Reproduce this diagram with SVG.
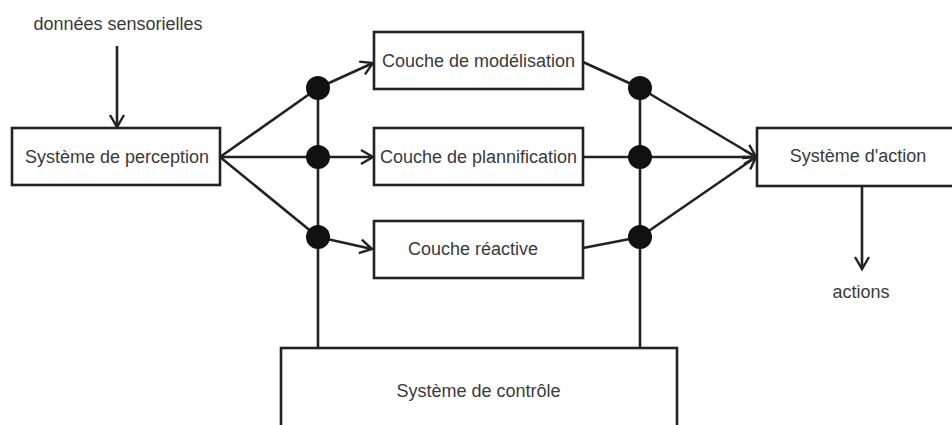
<svg xmlns="http://www.w3.org/2000/svg" width="952" height="425" viewBox="0 0 952 425">
<defs>
<style>
.box{fill:#fff;stroke:#222;stroke-width:2.6}
.ln{fill:none;stroke:#222;stroke-width:2.6}
.dot{fill:#111}
.t{font-family:"Liberation Sans",Arial,sans-serif;font-size:18px;fill:#3a3a3a;text-anchor:middle}
</style>
<marker id="v" markerUnits="userSpaceOnUse" viewBox="-14 -9 16 18" refX="0" refY="0" markerWidth="16" markerHeight="18" orient="auto" overflow="visible">
<path d="M-12,-7 L0,0 L-12,7" fill="none" stroke="#222" stroke-width="2.4"/>
</marker>
</defs>
<rect width="952" height="425" fill="#fff"/>
<g id="connectors">
<line class="ln" x1="117" y1="46" x2="117" y2="127" marker-end="url(#v)"/>
<line class="ln" x1="220" y1="157" x2="318" y2="88"/>
<line class="ln" x1="220" y1="157" x2="318" y2="157"/>
<line class="ln" x1="220" y1="157" x2="318" y2="237"/>
<line class="ln" x1="318" y1="88" x2="373" y2="63" marker-end="url(#v)"/>
<line class="ln" x1="318" y1="157" x2="373" y2="157" marker-end="url(#v)"/>
<line class="ln" x1="318" y1="237" x2="372" y2="249" marker-end="url(#v)"/>
<line class="ln" x1="318" y1="88" x2="318" y2="348"/>
<line class="ln" x1="640" y1="88" x2="640" y2="348"/>
<line class="ln" x1="583" y1="62" x2="640" y2="88"/>
<line class="ln" x1="583" y1="157" x2="640" y2="157"/>
<line class="ln" x1="583" y1="248" x2="640" y2="237"/>
<line class="ln" x1="640" y1="88" x2="756" y2="157" marker-end="url(#v)"/>
<line class="ln" x1="640" y1="157" x2="756" y2="157" marker-end="url(#v)"/>
<line class="ln" x1="640" y1="237" x2="756" y2="157" marker-end="url(#v)"/>
<line class="ln" x1="862" y1="186" x2="862" y2="269" marker-end="url(#v)"/>
<circle class="dot" cx="318" cy="88" r="12"/>
<circle class="dot" cx="318" cy="157" r="12"/>
<circle class="dot" cx="318" cy="237" r="12"/>
<circle class="dot" cx="640" cy="88" r="12"/>
<circle class="dot" cx="640" cy="157" r="12"/>
<circle class="dot" cx="640" cy="237" r="12"/>
</g>
<g id="label-donnees">
<text class="t" x="118" y="30">données sensorielles</text>
</g>
<g id="perception">
<rect class="box" x="12" y="128" width="208" height="57"/>
<text class="t" x="117" y="163">Système de perception</text>
</g>
<g id="modelisation">
<rect class="box" x="374" y="32" width="209" height="57"/>
<text class="t" x="478.5" y="67">Couche de modélisation</text>
</g>
<g id="plannification">
<rect class="box" x="374" y="128" width="209" height="57"/>
<text class="t" x="478.5" y="163">Couche de plannification</text>
</g>
<g id="reactive">
<rect class="box" x="374" y="221" width="209" height="57"/>
<text class="t" x="473" y="255">Couche réactive</text>
</g>
<g id="action">
<rect class="box" x="757" y="128" width="200" height="58"/>
<text class="t" x="858" y="162">Système d'action</text>
</g>
<g id="label-actions">
<text class="t" x="861" y="298">actions</text>
</g>
<g id="controle">
<rect class="box" x="281" y="348" width="396" height="90"/>
<text class="t" x="478.5" y="397">Système de contrôle</text>
</g>
</svg>
